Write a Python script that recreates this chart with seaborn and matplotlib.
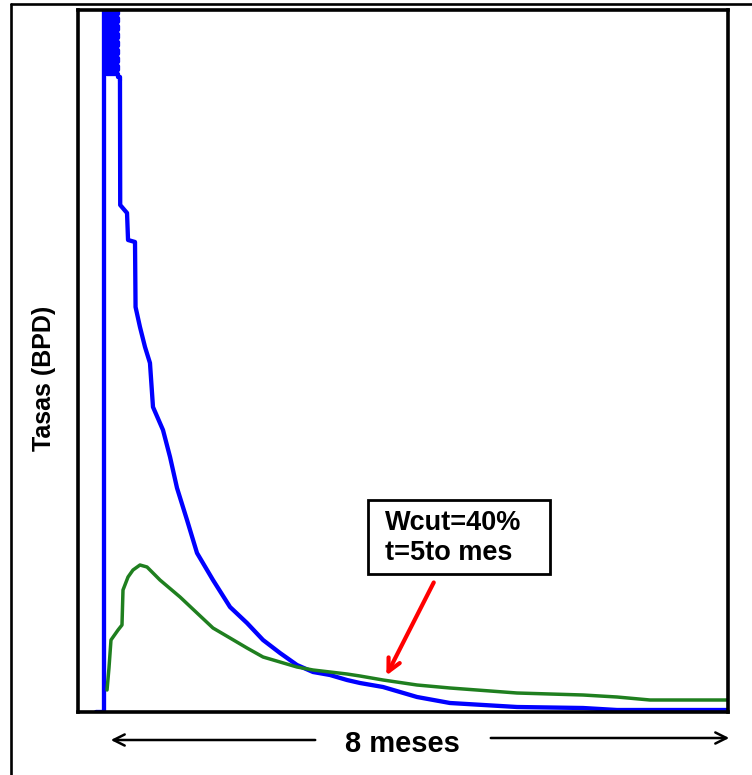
import numpy as np
import pandas as pd
import matplotlib
matplotlib.use("Agg")
import matplotlib.pyplot as plt
import seaborn as sns
from matplotlib.lines import Line2D
from matplotlib.patches import Rectangle

# ---- data (time in months, rate in BPD) ----
blue_t = [-0.090, 0.000, 0.013,
          0.194, 0.039, 0.194, 0.039, 0.194, 0.039, 0.194, 0.039, 0.194,
          0.052, 0.194, 0.052, 0.194, 0.052, 0.194, 0.052, 0.194,
          0.219, 0.222, 0.310, 0.323, 0.413, 0.420,
          0.477, 0.542, 0.606, 0.645, 0.774, 0.865, 0.955, 1.084, 1.213, 1.419,
          1.639, 1.858, 2.065, 2.284, 2.503, 2.710, 2.929, 3.148, 3.316, 3.613,
          4.052, 4.477, 5.342, 6.194, 6.632, 8.065]
blue_q = [0, 0, 3510,
          3490, 3470, 3450, 3430, 3410, 3390, 3370, 3350, 3330,
          3310, 3290, 3270, 3250, 3230, 3210, 3190, 3175,
          3160, 2535, 2495, 2360, 2350, 2025,
          1925, 1825, 1745, 1525, 1410, 1275, 1120, 960, 795, 660,
          525, 445, 360, 295, 235, 200, 185, 160, 145, 125,
          75, 45, 25, 20, 10, 10]
peak_end = 20  # index where the noisy peak region ends

green_t = [0.052, 0.077, 0.103, 0.194, 0.245, 0.258, 0.323, 0.387, 0.477, 0.568,
           0.671, 0.735, 0.994, 1.213, 1.419, 1.639, 1.858, 2.065, 2.284, 2.503,
           2.710, 2.929, 3.148, 3.316, 3.613, 4.052, 4.477, 5.342, 6.194, 6.632,
           7.058, 8.065]
green_q = [110, 220, 360, 410, 435, 610, 675, 710, 735, 725,
           685, 660, 575, 495, 420, 370, 320, 275, 250, 225,
           210, 200, 190, 180, 160, 135, 120, 95, 85, 75,
           60, 60]

ylabel = "Tasas (BPD)"
xlabel = "8 meses"
note_lines = ["Wcut=40%", "t=5to mes"]
note_point = (3.64, 170)

sns.set_style("white")
plt.rcParams['font.family'] = ['Liberation Sans', 'DejaVu Sans']

W, H = 752, 775
fig = plt.figure(figsize=(W / 100, H / 100), dpi=100)
ax = fig.add_axes([78 / W, 1 - 712 / H, (728 - 78) / W, (712 - 10) / H])

BLUE, GREEN = "#0000ff", "#1f7f1f"
sns.lineplot(x=blue_t[:peak_end + 1], y=blue_q[:peak_end + 1], ax=ax, color=BLUE,
             lw=3.1, sort=False, estimator=None, drawstyle="steps-post")
sns.lineplot(x=blue_t[peak_end:], y=blue_q[peak_end:], ax=ax, color=BLUE,
             lw=3.1, sort=False, estimator=None)
sns.lineplot(x=green_t, y=green_q, ax=ax, color=GREEN, lw=2.5,
             sort=False, estimator=None)

ax.set_xlim(-0.3226, 8.0645)
ax.set_ylim(0, 3510)
ax.set_xticks([])
ax.set_yticks([])
ax.set_xlabel("")
ax.set_ylabel("")
for s in ax.spines.values():
    s.set_visible(True)
    s.set_color("black")
    s.set_linewidth(2.6)

# outer frame
fig.add_artist(Line2D([11 / W, 11 / W], [0, 1 - 4 / H], transform=fig.transFigure,
                      color="black", lw=1.9))
fig.add_artist(Line2D([11 / W, 1.0], [1 - 4 / H, 1 - 4 / H], transform=fig.transFigure,
                      color="black", lw=1.9))

# y label
fig.text(44 / W, 1 - 378 / H, ylabel, rotation=90, ha="center", va="center",
         fontsize=18, fontweight="bold", color="black")

# x label with arrows
fig.text(402 / W, 1 - 752 / H, xlabel, ha="center", va="baseline",
         fontsize=21, fontweight="bold", color="black")
ax.annotate("", xy=(108, H - 740), xytext=(318, H - 740),
            xycoords="figure pixels", textcoords="figure pixels",
            arrowprops=dict(arrowstyle="->,head_length=0.8,head_width=0.4",
                            lw=1.8, color="black"), annotation_clip=False)
ax.annotate("", xy=(732, H - 738), xytext=(488, H - 738),
            xycoords="figure pixels", textcoords="figure pixels",
            arrowprops=dict(arrowstyle="->,head_length=0.8,head_width=0.4",
                            lw=1.8, color="black"), annotation_clip=False)

# annotation box
fig.add_artist(Rectangle((368 / W, 1 - 574 / H), 182 / W, 74 / H,
                         transform=fig.transFigure, facecolor="white",
                         edgecolor="black", lw=2.0))
fig.text(385 / W, 1 - 530 / H, note_lines[0], ha="left", va="baseline",
         fontsize=19.5, fontweight="bold", color="black")
fig.text(385 / W, 1 - 560 / H, note_lines[1], ha="left", va="baseline",
         fontsize=19.5, fontweight="bold", color="black")

ax.annotate("", xy=note_point, xytext=(435, H - 580),
            xycoords="data", textcoords="figure pixels",
            arrowprops=dict(arrowstyle="->,head_length=0.9,head_width=0.45",
                            lw=3.0, color="#ff0000"))

fig.savefig("out.png", dpi=100)
